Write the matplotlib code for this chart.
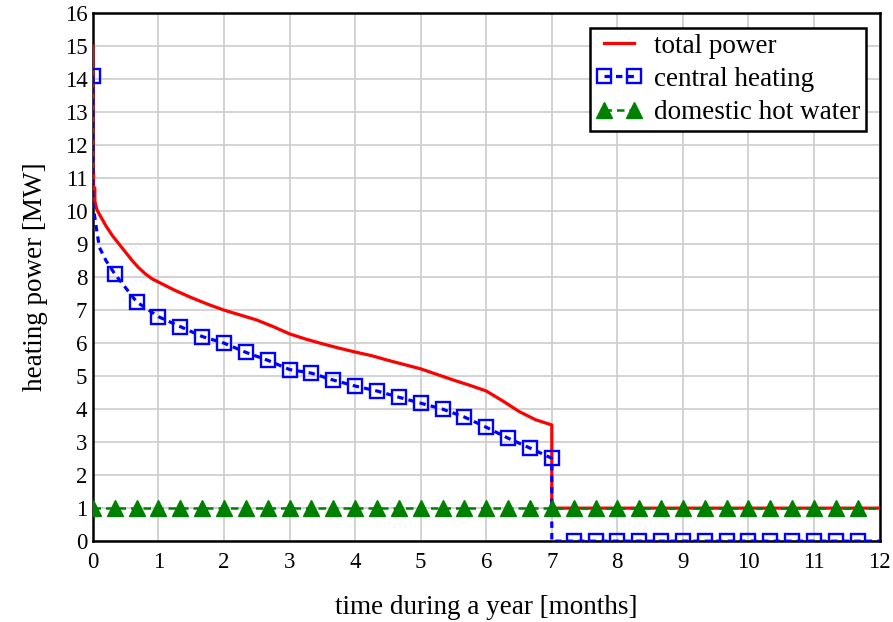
import matplotlib.pyplot as plt

##### Data #####
# total power (red), months vs MW
total_months = [0.0, 0.0, 0.01, 0.01, 0.03, 0.03, 0.06, 0.1, 0.2, 0.3, 0.4, 0.5, 0.6, 0.7, 0.8, 0.9,
                1.0, 1.25, 1.5, 1.75, 2.0, 2.25, 2.5, 2.75, 3.0, 3.25, 3.5, 3.75, 4.0, 4.25,
                4.5, 4.75, 5.0, 5.25, 5.5, 5.75, 6.0, 6.25, 6.5, 6.75, 7.0, 7.0, 12.0]
total_power = [15.0, 11.2, 11.2, 10.7, 10.7, 10.3, 10.05, 9.9, 9.55, 9.25, 9.0, 8.75, 8.5, 8.28, 8.1, 7.95,
               7.85, 7.6, 7.38, 7.18, 7.0, 6.85, 6.7, 6.5, 6.28, 6.12, 5.98, 5.85, 5.73, 5.62,
               5.48, 5.35, 5.22, 5.05, 4.88, 4.72, 4.55, 4.25, 3.93, 3.68, 3.52, 1.0, 1.0]

# central heating (blue), line points; markers sit every 1/3 month
ch_months = [0.0, 0.0, 0.03, 0.06, 0.1, 0.2, 0.333, 0.667, 1.0, 1.333, 1.667, 2.0, 2.333, 2.667,
             3.0, 3.333, 3.667, 4.0, 4.333, 4.667, 5.0, 5.333, 5.667, 6.0, 6.333, 6.667, 7.0,
             7.0, 7.333, 7.667, 8.0, 8.333, 8.667, 9.0, 9.333, 9.667, 10.0, 10.333, 10.667,
             11.0, 11.333, 11.667, 12.0]
ch_power = [14.1, 10.2, 9.8, 9.4, 8.9, 8.5, 8.1, 7.25, 6.8, 6.5, 6.2, 6.0, 5.72, 5.48,
            5.2, 5.09, 4.88, 4.7, 4.55, 4.36, 4.18, 4.0, 3.76, 3.45, 3.12, 2.82, 2.51,
            0.0, 0.0, 0.0, 0.0, 0.0, 0.0, 0.0, 0.0, 0.0, 0.0, 0.0, 0.0,
            0.0, 0.0, 0.0, 0.0]
ch_marker_idx = [0] + list(range(6, 27)) + list(range(28, 42))

# domestic hot water (green)
dhw_months = [0.0, 0.333, 0.667, 1.0, 1.333, 1.667, 2.0, 2.333, 2.667, 3.0, 3.333, 3.667,
              4.0, 4.333, 4.667, 5.0, 5.333, 5.667, 6.0, 6.333, 6.667, 7.0, 7.333, 7.667,
              8.0, 8.333, 8.667, 9.0, 9.333, 9.667, 10.0, 10.333, 10.667, 11.0, 11.333, 11.667, 12.0]
dhw_power = [1.0] * 37

x_ticks = list(range(0, 13))
y_ticks = list(range(0, 17))

plt.rcParams['font.family'] = 'Liberation Serif'

fig = plt.figure(figsize=(8.93, 6.22), dpi=100)
ax = fig.add_axes([0.104, 0.130, 0.881, 0.849])

ax.plot(total_months, total_power, color='red', lw=2.3, zorder=3, label='total power')
ax.plot(ch_months, ch_power, color='blue', lw=2.3, ls=(0, (2.0, 1.6)), marker='s',
        markevery=ch_marker_idx, ms=10.5, mfc='none', mec='blue', mew=1.7, zorder=4,
        label='central heating')
ax.plot(dhw_months, dhw_power, color='green', lw=1.8, ls=(0, (3, 2)), marker='^',
        markevery=list(range(0, 36)), ms=12, mfc='green', mec='green', zorder=5,
        label='domestic hot water')

ax.set_xlim(0, 12)
ax.set_ylim(0, 16)
ax.set_xticks(x_ticks)
ax.set_yticks(y_ticks)
ax.grid(True, color='#cccccc', lw=1.2)
ax.set_axisbelow(True)
ax.tick_params(axis='both', length=0, labelsize=16.5)
ax.tick_params(axis='x', pad=8)
ax.tick_params(axis='y', pad=4)
for s in ax.spines.values():
    s.set_linewidth(1.8)
    s.set_color('black')

ax.set_xlabel('time during a year [months]', fontsize=19.5, labelpad=16)
ax.set_ylabel('heating power [MW]', fontsize=19.5, labelpad=12)

leg = ax.legend(loc='upper right', bbox_to_anchor=(0.983, 0.972), fontsize=19.5, numpoints=2,
                fancybox=False, framealpha=1, edgecolor='black', handlelength=1.7,
                borderpad=0.22, labelspacing=0.3, handletextpad=0.45, borderaxespad=0.0)
leg.get_frame().set_linewidth(1.8)

fig.savefig('out.png', dpi=100)
